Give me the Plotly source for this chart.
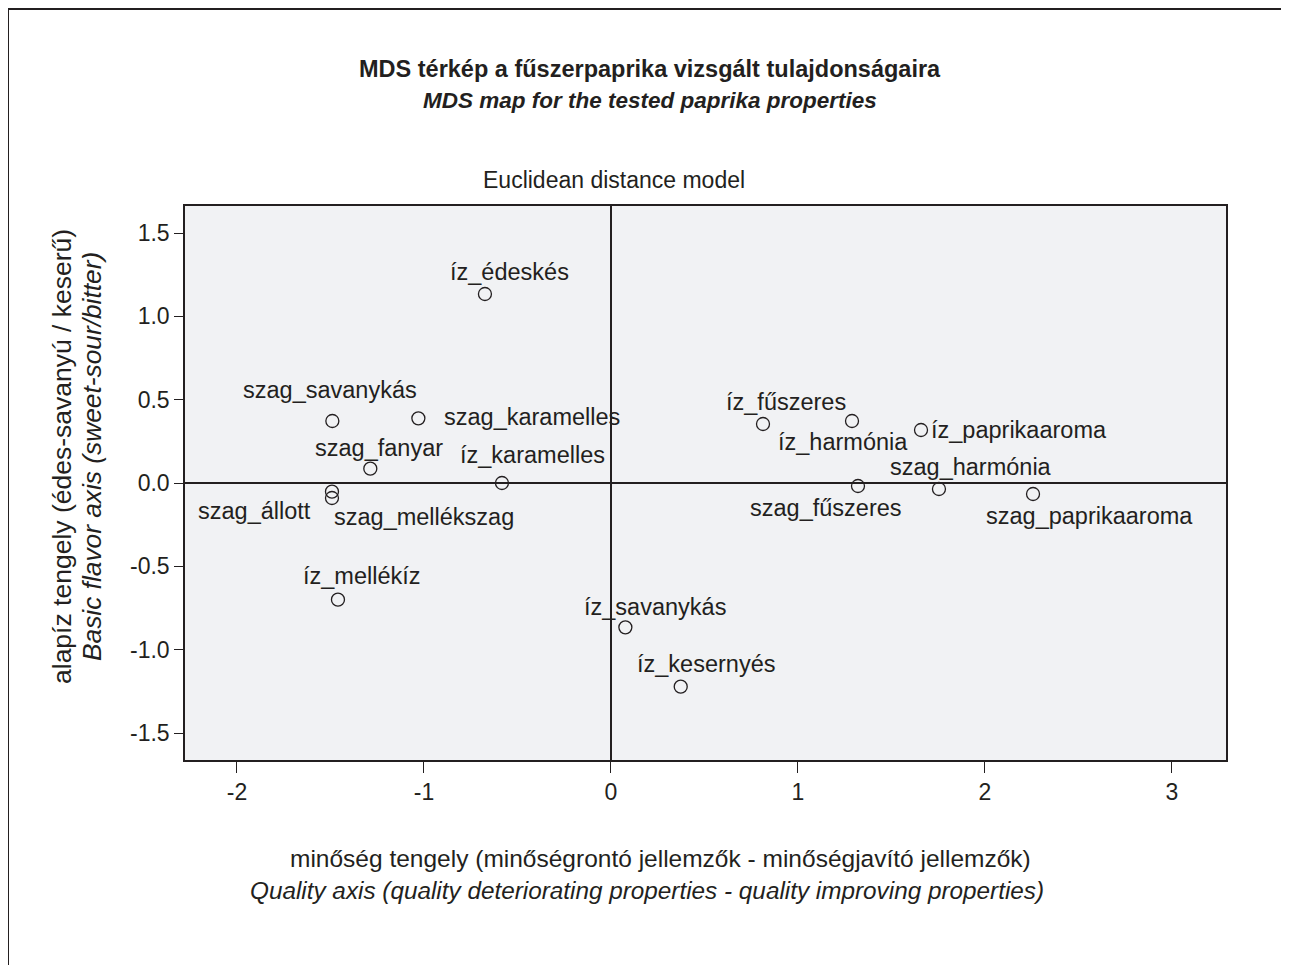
import plotly.graph_objects as go

# ---- data ----
labels = ["íz_édeskés", "szag_savanykás", "szag_karamelles", "szag_fanyar", "íz_karamelles",
          "szag_állott", "szag_mellékszag", "íz_mellékíz", "íz_savanykás", "íz_kesernyés",
          "íz_fűszeres", "íz_harmónia", "íz_paprikaaroma", "szag_fűszeres", "szag_harmónia",
          "szag_paprikaaroma"]
dim1 = [-0.674, -1.490, -1.030, -1.287, -0.583, -1.492, -1.492, -1.460, 0.077, 0.373,
        0.813, 1.289, 1.658, 1.321, 1.754, 2.257]
dim2 = [1.134, 0.372, 0.388, 0.086, 0.000, -0.052, -0.090, -0.700, -0.866, -1.222,
        0.354, 0.372, 0.318, -0.018, -0.036, -0.066]
x_ticks = [-2, -1, 0, 1, 2, 3]
x_tick_text = ["-2", "-1", "0", "1", "2", "3"]
y_ticks = [-1.5, -1.0, -0.5, 0.0, 0.5, 1.0, 1.5]
y_tick_text = ["-1.5", "-1.0", "-0.5", "0.0", "0.5", "1.0", "1.5"]

# label placement (pixel offsets: xanchor, xshift, yshift)
label_pos = {
    "íz_édeskés": ("center", 25, 22),
    "szag_savanykás": ("center", -2, 31),
    "szag_karamelles": ("left", 24, 1),
    "szag_fanyar": ("center", 9, 21),
    "íz_karamelles": ("center", 31, 28),
    "szag_állott": ("right", -19, -19),
    "szag_mellékszag": ("left", 0, -19),
    "íz_mellékíz": ("center", 24, 24),
    "íz_savanykás": ("center", 30, 20),
    "íz_kesernyés": ("center", 25, 23),
    "íz_fűszeres": ("center", 23, 22),
    "íz_harmónia": ("center", -9, -21),
    "íz_paprikaaroma": ("left", 8, 0),
    "szag_fűszeres": ("center", -32, -22),
    "szag_harmónia": ("center", 32, 22),
    "szag_paprikaaroma": ("center", 56, -22),
}

FONT = "Liberation Sans, Arial, Helvetica, sans-serif"
INK = "#231f20"
FS = 23.5

FW, FH = 1281, 957          # figure size (page body adds an 8px margin)
OFF = 8                     # page offset
L, R, T, B = 185 - OFF, 1226 - OFF, 206 - OFF, 760 - OFF
W, H = R - L, B - T


def px(xp):
    return (xp - OFF - L) / W


def py(yp):
    return (B - (yp - OFF)) / H


fig = go.Figure()
fig.add_trace(go.Scatter(
    x=dim1, y=dim2, mode="markers",
    marker=dict(symbol="circle-open", size=13, color=INK, line=dict(width=1.3, color=INK)),
    hoverinfo="text", text=labels, showlegend=False,
))

ann = []
for lab, xv, yv in zip(labels, dim1, dim2):
    xa, xs, ys = label_pos[lab]
    ann.append(dict(x=xv, y=yv, xref="x", yref="y", text=lab, showarrow=False,
                    xanchor=xa, yanchor="middle", xshift=xs, yshift=ys,
                    font=dict(family=FONT, size=FS, color=INK)))

titles = [
    ("<b>MDS térkép a fűszerpaprika vizsgált tulajdonságaira</b>", 650, 69, 0, 23.5),
    ("<b><i>MDS map for the tested paprika properties</i></b>", 650, 101, 0, 22.5),
    ("Euclidean distance model", 614, 180, 0, 23),
    ("minőség tengely (minőségrontó jellemzők - minőségjavító jellemzők)", 660, 858, 0, 24.5),
    ("<i>Quality axis (quality deteriorating properties - quality improving properties)</i>", 647, 890, 0, 24.3),
    ("alapíz tengely (édes-savanyú / keserű)", 62, 457, -90, 26.5),
    ("<i>Basic flavor axis (sweet-sour/bitter)</i>", 92, 457, -90, 26.3),
]
for txt, xp, yp, ang, fs in titles:
    ann.append(dict(x=px(xp), y=py(yp), xref="paper", yref="paper", text=txt, showarrow=False,
                    xanchor="center", yanchor="middle", textangle=ang,
                    font=dict(family=FONT, size=fs, color=INK)))

fig.update_layout(
    width=FW, height=FH,
    margin=dict(l=L, r=FW - R, t=T, b=FH - B, pad=0),
    paper_bgcolor="white", plot_bgcolor="#f1f2f4",
    font=dict(family=FONT, size=FS, color=INK),
    annotations=ann,
    shapes=[dict(type="rect", xref="paper", yref="paper",
                 x0=px(8), x1=px(1330), y0=py(9), y1=py(1050),
                 line=dict(color=INK, width=2), fillcolor="rgba(0,0,0,0)", layer="below")],
)
fig.update_xaxes(range=[-2.278, 3.289], tickvals=x_ticks, ticktext=x_tick_text, ticks="outside",
                 ticklen=11, tickwidth=1.2, tickcolor=INK, showgrid=False, zeroline=True,
                 zerolinecolor=INK, zerolinewidth=1.5, showline=True, linecolor=INK, linewidth=1.5,
                 mirror=True, tickfont=dict(family=FONT, size=23, color=INK))
fig.update_yaxes(range=[-1.662, 1.662], tickvals=y_ticks, ticktext=y_tick_text, ticks="outside",
                 ticklen=9, tickwidth=1.2, tickcolor=INK, showgrid=False, zeroline=True,
                 zerolinecolor=INK, zerolinewidth=1.5, showline=True, linecolor=INK, linewidth=1.5,
                 mirror=True, tickfont=dict(family=FONT, size=23, color=INK))

fig.write_html("out.html")
